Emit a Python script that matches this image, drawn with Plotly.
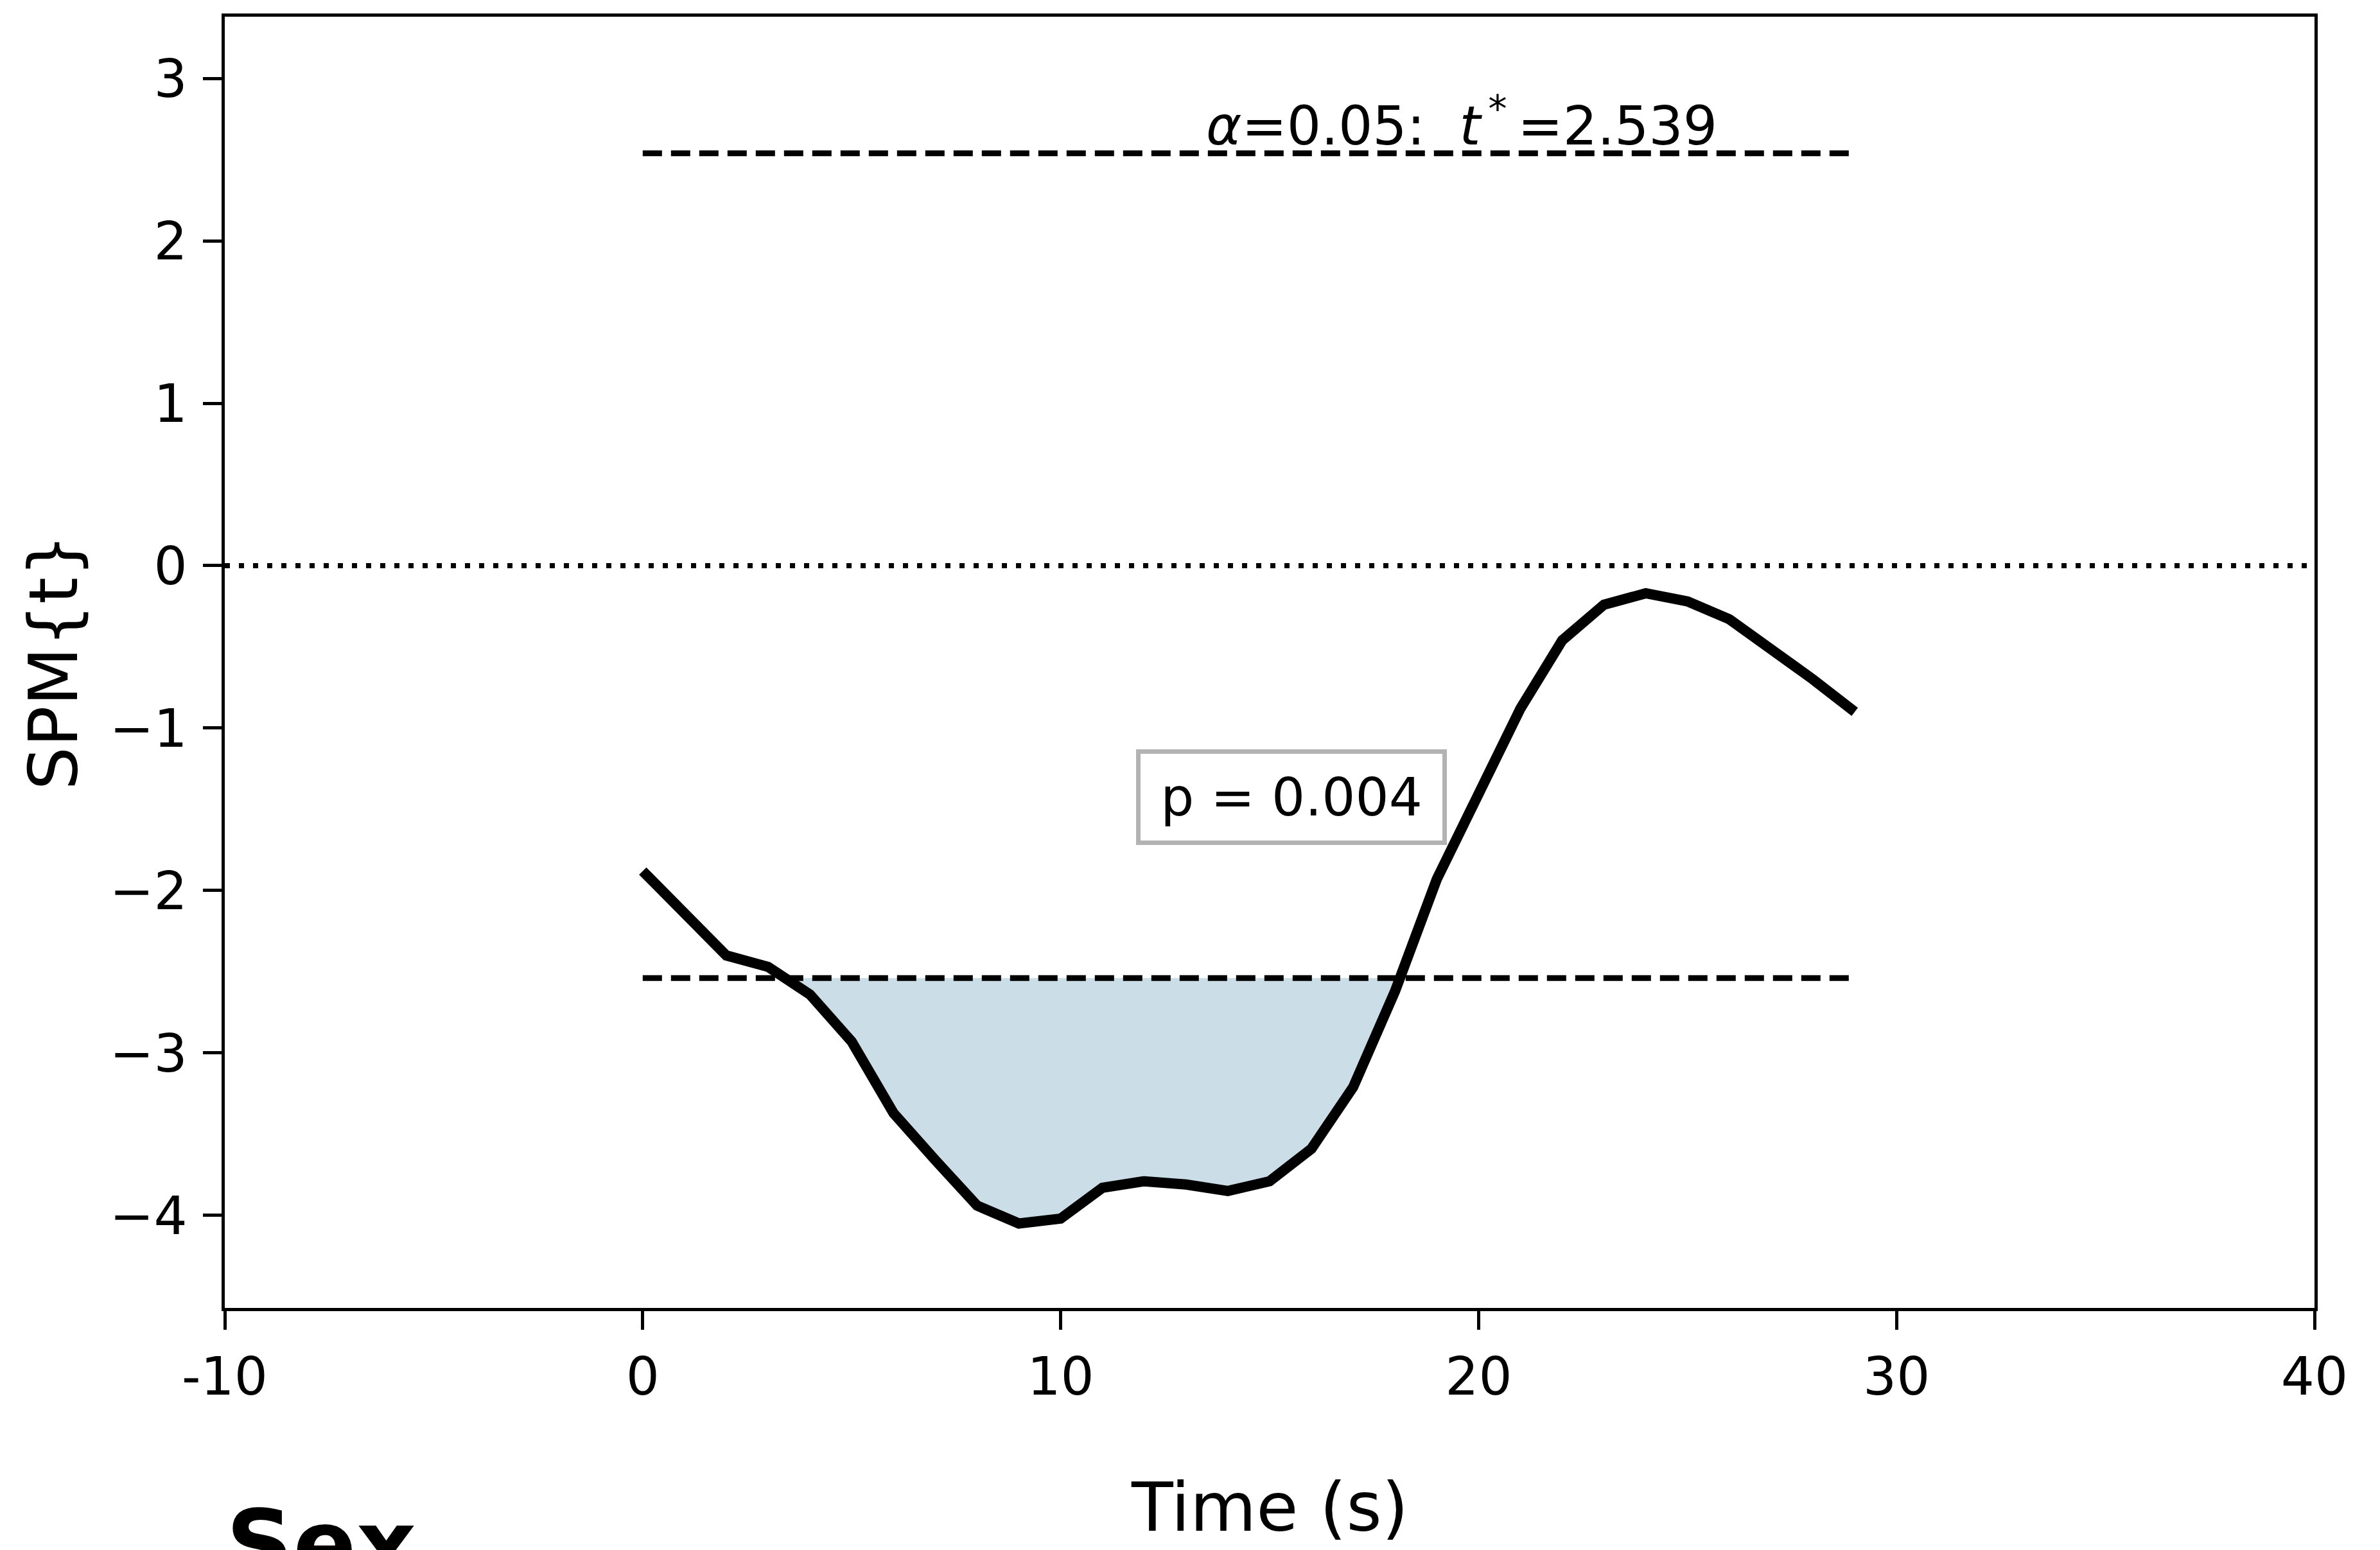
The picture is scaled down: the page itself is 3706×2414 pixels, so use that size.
import plotly.graph_objects as go

# ---- data ----
times = list(range(30))
spm_t = [-1.88, -2.14, -2.40, -2.47, -2.64, -2.93, -3.37, -3.66, -3.94, -4.05,
         -4.02, -3.83, -3.79, -3.81, -3.85, -3.79, -3.59, -3.21, -2.62, -1.93,
         -1.42, -0.88, -0.46, -0.24, -0.17, -0.22, -0.33, -0.51, -0.70, -0.90]
t_star = 2.539
alpha = 0.05
p_value = 0.004
x_ticks = [-10, 0, 10, 20, 30, 40]
x_tick_labels = ["-10", "0", "10", "20", "30", "40"]
y_ticks = [-4, -3, -2, -1, 0, 1, 2, 3]
y_tick_labels = ["\u22124", "\u22123", "\u22122", "\u22121", "0", "1", "2", "3"]
x_range = [-10, 40]
y_range = [-4.57, 3.38]

FONT = "DejaVu Sans"

# suprathreshold cluster polygon (curve below -t*)
thr = -t_star
cx, cy = [], []
for i in range(len(times) - 1):
    x0, x1 = times[i], times[i + 1]
    y0, y1 = spm_t[i], spm_t[i + 1]
    if y0 < thr:
        cx.append(x0)
        cy.append(y0)
    if (y0 - thr) * (y1 - thr) < 0:
        xc = x0 + (thr - y0) * (x1 - x0) / (y1 - y0)
        cx.append(xc)
        cy.append(thr)
if spm_t[-1] < thr:
    cx.append(times[-1])
    cy.append(spm_t[-1])

fig = go.Figure()

fig.add_trace(go.Scatter(x=cx, y=cy, fill="toself", mode="none",
                         fillcolor="#cbdee8", hoverinfo="skip", showlegend=False))

fig.add_hline(y=0, line=dict(color="black", width=8, dash="8px,14px"), layer="below")

for sgn in (1, -1):
    fig.add_trace(go.Scatter(x=[times[0], times[-1]], y=[sgn * t_star, sgn * t_star],
                             mode="lines", line=dict(color="black", width=9, dash="30px,14px"),
                             showlegend=False, hoverinfo="skip"))

fig.add_trace(go.Scatter(x=times, y=spm_t, mode="lines",
                         line=dict(color="black", width=16), showlegend=False))

axis_common = dict(showline=True, linecolor="black", linewidth=5, mirror=True,
                   ticks="outside", ticklen=29, tickwidth=5, tickcolor="black",
                   showgrid=False, zeroline=False,
                   tickfont=dict(family=FONT, size=82, color="black"))

fig.update_layout(
    width=3706, height=2414,
    margin=dict(l=350, r=102, t=26, b=377),
    plot_bgcolor="white", paper_bgcolor="white",
    xaxis=dict(range=x_range, tickvals=x_ticks, ticktext=x_tick_labels,
               ticklabelstandoff=3, **axis_common),
    yaxis=dict(range=y_range, tickvals=y_ticks, ticktext=y_tick_labels,
               ticklabelstandoff=8, **axis_common),
    font=dict(family=FONT, color="black"),
)

annots = [
    dict(x=19.6, y=2.73, xref="x", yref="y",
         text="<i>\u03b1</i>=%.2f:\u00a0 <i>t</i><sup>\u2009*</sup>\u2009=%.3f" % (alpha, t_star),
         font=dict(family=FONT, size=84, color="black"), showarrow=False,
         xanchor="center", yanchor="middle"),
    dict(x=15.52, y=-1.427, xref="x", yref="y", text="p = %.3f" % p_value,
         font=dict(family=FONT, size=82, color="black"), showarrow=False,
         bordercolor="#b3b3b3", borderwidth=7, borderpad=0, bgcolor="white",
         width=470, height=135, xanchor="center", yanchor="middle"),
    dict(x=0.5, y=-0.1542, xref="paper", yref="paper", text="Time (s)",
         font=dict(family=FONT, size=106, color="black"), showarrow=False,
         xanchor="center", yanchor="middle"),
    dict(x=-0.08205, y=0.5, xref="paper", yref="paper", text="SPM{t}", textangle=-90,
         font=dict(family=FONT, size=106, color="black"), showarrow=False,
         xanchor="center", yanchor="middle"),
    dict(x=0.0, y=-0.1397, xref="paper", yref="paper", text="<b>Sex</b>",
         font=dict(family=FONT, size=145, color="black"), showarrow=False,
         xanchor="left", yanchor="top"),
]
fig.update_layout(annotations=annots)

fig.write_html("out.html")
